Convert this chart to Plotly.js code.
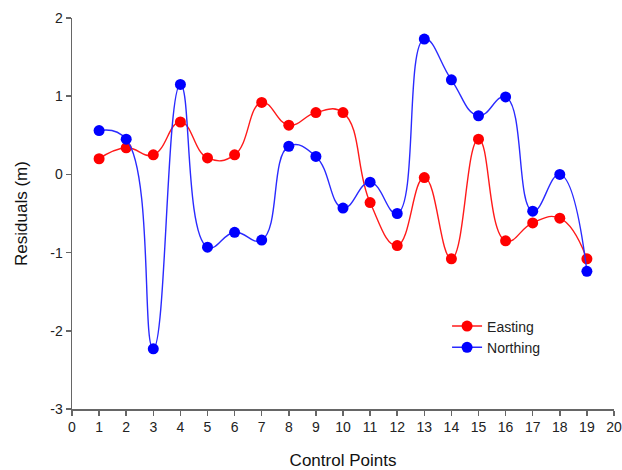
<!DOCTYPE html>
<html>
<head>
<meta charset="utf-8">
<script src="https://cdn.plot.ly/plotly-3.0.1.min.js"></script>
<style>html,body{margin:0;padding:0;background:#fff;}#chart{width:622px;height:470px;}</style>
</head>
<body>
<div id="chart"></div>
<script>
var controlPoints = [1,2,3,4,5,6,7,8,9,10,11,12,13,14,15,16,17,18,19];
var easting  = [0.20,0.34,0.25,0.67,0.21,0.25,0.92,0.63,0.79,0.79,-0.36,-0.91,-0.04,-1.08,0.45,-0.85,-0.62,-0.56,-1.08];
var northing = [0.56,0.45,-2.23,1.15,-0.93,-0.74,-0.84,0.36,0.23,-0.43,-0.10,-0.50,1.73,1.21,0.75,0.99,-0.47,0.00,-1.24];
var xTicks = [0,1,2,3,4,5,6,7,8,9,10,11,12,13,14,15,16,17,18,19,20];
var yTicks = [-3,-2,-1,0,1,2];

var font = "Liberation Sans, Arial, sans-serif";
var traces = [
  {x: controlPoints, y: easting, name: 'Easting', mode: 'lines+markers',
   line: {color: '#ff1a1a', width: 1.4, shape: 'spline', smoothing: 1.3},
   marker: {color: '#ff0000', size: 11}},
  {x: controlPoints, y: northing, name: 'Northing', mode: 'lines+markers',
   line: {color: '#2a2aff', width: 1.4, shape: 'spline', smoothing: 1.3},
   marker: {color: '#0000ff', size: 11}}
];
var layout = {
  width: 622, height: 470,
  margin: {l: 72, r: 8, t: 18, b: 61},
  paper_bgcolor: '#fff', plot_bgcolor: '#fff',
  font: {family: font, color: '#222', size: 14},
  showlegend: true,
  legend: {x: 0.692, y: 0.252, xanchor: 'left', yanchor: 'top', bgcolor: 'rgba(0,0,0,0)',
           font: {family: font, size: 14, color: '#222'}, tracegroupgap: 0},
  xaxis: {range: [0, 20], tickvals: xTicks, ticktext: xTicks.map(String),
          showgrid: false, zeroline: false, showline: true, linecolor: '#666', linewidth: 1.5,
          ticks: 'outside', ticklen: 5, tickcolor: '#666', tickwidth: 1.5,
          tickfont: {family: font, size: 14, color: '#222'},
          title: {text: 'Control Points', font: {family: font, size: 17, color: '#111'}, standoff: 23}},
  yaxis: {range: [-3, 2], tickvals: yTicks, ticktext: yTicks.map(String),
          showgrid: false, zeroline: false, showline: true, linecolor: '#666', linewidth: 1.5,
          ticks: 'outside', ticklen: 5, tickcolor: '#666', tickwidth: 1.5,
          tickfont: {family: font, size: 14, color: '#222'},
          title: {text: 'Residuals (m)', font: {family: font, size: 17, color: '#111'}, standoff: 18}}
};
Plotly.newPlot('chart', traces, layout, {displayModeBar: false, staticPlot: true});
</script>
</body>
</html>
